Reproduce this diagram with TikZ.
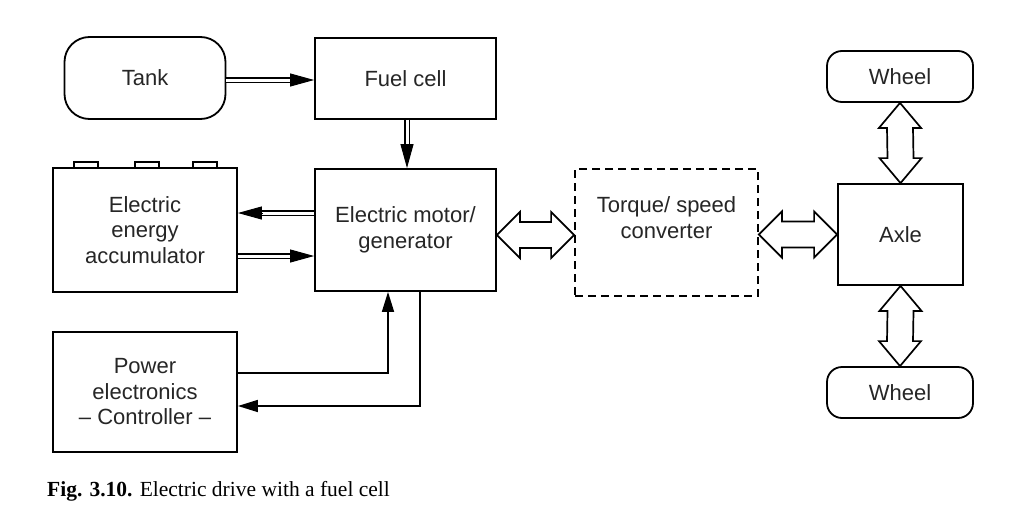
\documentclass[tikz,border=0pt]{standalone}
\usepackage{fontspec}
\setmainfont{Liberation Sans}
\newfontfamily\capfont{Liberation Serif}
\usetikzlibrary{arrows.meta,calc}
\newcommand\dblarrow[2]{%
  \draw[dbl] (#1) -- (#2);
  \draw[dbltip] ($(#2)!24pt!(#1)$) -- (#2);}
\newcommand\hollowh[2]{%
  \draw[hol] (#1) -- ++(23,-23) -- ++(0,10) -- ($(#2)+(-23,-13)$) -- ++(0,-10) -- (#2)
    -- ++(-23,23) -- ++(0,-10) -- ($(#1)+(23,13)$) -- ++(0,10) -- cycle;}
\newcommand\hollowv[2]{%
  \draw[hol] (#1) -- ++(-21,25) -- ++(8,0) -- ($(#2)+(-13,-25)$) -- ++(-8,0) -- (#2)
    -- ++(21,-25) -- ++(-8,0) -- ($(#1)+(13,25)$) -- ++(8,0) -- cycle;}
\begin{document}
\begin{tikzpicture}[x=1pt,y=-1pt,
  box/.style={draw, line width=1.8pt, inner sep=0pt, align=center,
    font=\fontsize{22}{25.5}\selectfont, text=black!85},
  rbox/.style={box, rounded corners=#1},
  dashbox/.style={box, dash pattern=on 8pt off 5pt},
  dbl/.style={double, double distance=3pt, line width=1.3pt, shorten >=14pt},
  dbltip/.style={line width=1pt, -{Triangle[length=24pt,width=13pt]}},
  sarrow/.style={line width=1.6pt, -{Triangle[length=20pt,width=12pt]}},
  hol/.style={line width=1.7pt, line join=miter, fill=white}]
\useasboundingbox (0,0) rectangle (1019,514);
\fill[white] (0,0) rectangle (1019,514);

\node[rbox=25pt, minimum width=161pt, minimum height=82pt] (tank) at (145,78) {Tank};
\node[box, minimum width=181pt, minimum height=81pt] (fuel) at (405.5,78.5) {Fuel cell};
\node[box, minimum width=184pt, minimum height=124pt] (acc) at (145,230) {Electric\\energy\\accumulator};
\node[box, minimum width=181pt, minimum height=122pt] (motor) at (405.5,230) {Electric motor/\\generator};
\node[box, minimum width=184pt, minimum height=120pt] (pe) at (145,392) {Power\\electronics\\-- Controller --};
\node[dashbox, minimum width=183pt, minimum height=127pt] (conv) at (666.5,232.5) {Torque/ speed\\converter\\[4pt]};
\node[box, minimum width=125pt, minimum height=101pt] (axle) at (900.5,234.5) {Axle};
\node[rbox=15pt, minimum width=146pt, minimum height=51pt] (w1) at (900,76.5) {Wheel};
\node[rbox=15pt, minimum width=146pt, minimum height=51pt] (w2) at (900,392.5) {Wheel};

% battery terminals
\foreach \a/\b in {22/46, 83/107, 141/165}
  \draw[line width=1.5pt] ($(acc.north west)+(\a,0)$) |- ($(acc.north west)+(\b,-5)$) -- ($(acc.north west)+(\b,0)$);

% double-line arrows
\coordinate (t1) at ($(tank.east)+(0,2)$);
\coordinate (t2) at (fuel.west |- t1);
\dblarrow{t1}{t2}
\coordinate (f1) at ($(fuel.south)+(1.5,0)$);
\coordinate (f2) at (motor.north -| f1);
\dblarrow{f1}{f2}
\coordinate (m1) at ($(motor.west)+(0,-17)$);
\coordinate (m2) at (acc.east |- m1);
\dblarrow{m1}{m2}
\coordinate (a1) at ($(acc.east)+(0,26)$);
\coordinate (a2) at (motor.west |- a1);
\dblarrow{a1}{a2}

% control lines
\coordinate (p1) at ($(pe.east)+(0,-19)$);
\coordinate (p2) at ($(motor.south)+(-17.5,0)$);
\draw[sarrow] (p1) -| (p2);
\coordinate (q1) at ($(motor.south)+(14.5,0)$);
\coordinate (q2) at ($(pe.east)+(0,14)$);
\draw[sarrow] (q1) |- (q2);

% hollow double arrows
\coordinate (h1) at ($(motor.east)+(0,5)$);
\coordinate (h2) at (conv.west |- h1);
\hollowh{h1}{h2}
\coordinate (h3) at (conv.east |- axle.west);
\hollowh{h3}{axle.west}
\hollowv{w1.south}{axle.north}
\hollowv{axle.south}{w2.north}

\node[anchor=base west, inner sep=0pt, font=\capfont\fontsize{21.5}{24}\selectfont] (cap) at (47,496)
  {\textbf{Fig. 3.10.} Electric drive with a fuel cell};
\end{tikzpicture}
\end{document}
